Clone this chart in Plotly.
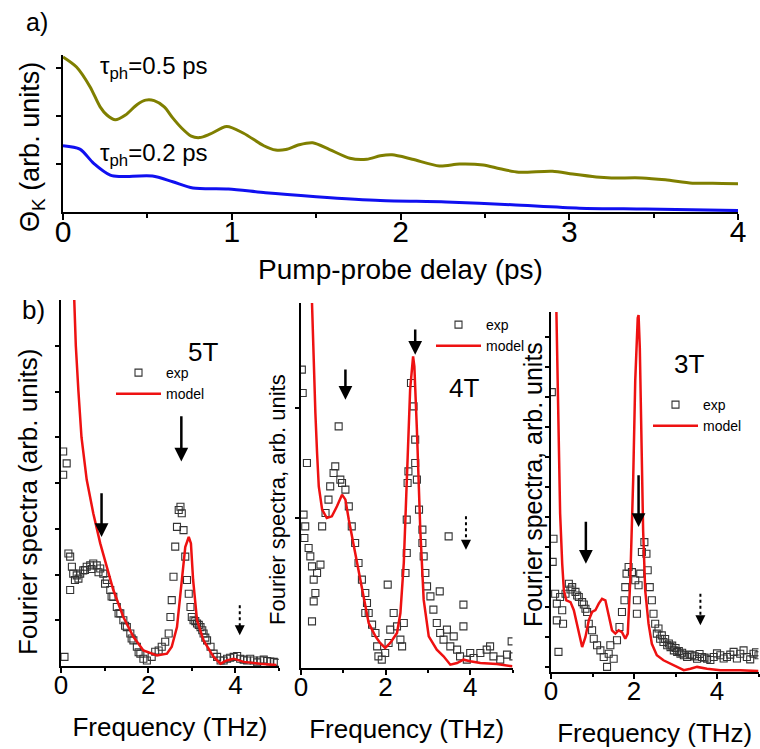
import plotly.graph_objects as go

FONT = "Liberation Sans, Arial, sans-serif"

# ---------------- panel a) : Kerr rotation vs delay ----------------
delay_05 = [0, 0.08, 0.16, 0.22, 0.26, 0.31, 0.37, 0.44, 0.49, 0.54, 0.60, 0.65, 0.70, 0.76, 0.81,
            0.87, 0.97, 1.07, 1.19, 1.26, 1.32, 1.40, 1.48, 1.58, 1.70, 1.80, 1.88, 1.95, 2.07,
            2.23, 2.35, 2.49, 2.59, 2.70, 2.90, 3.02, 3.16, 3.25, 3.43, 3.57, 3.73, 3.85, 4.0]
kerr_05 = [3.23, 3.02, 2.61, 2.19, 2.02, 1.92, 2.02, 2.24, 2.33, 2.32, 2.19, 1.96, 1.76, 1.58, 1.55,
           1.62, 1.78, 1.64, 1.38, 1.29, 1.30, 1.40, 1.44, 1.30, 1.12, 1.10, 1.17, 1.19, 1.10,
           0.96, 1.00, 0.98, 0.90, 0.83, 0.85, 0.79, 0.73, 0.71, 0.71, 0.67, 0.60, 0.60, 0.59]
delay_02 = [0, 0.10, 0.18, 0.28, 0.34, 0.53, 0.65, 0.77, 0.98, 1.20, 1.50, 1.88, 2.27, 2.66,
            3.06, 3.45, 4.0]
kerr_02 = [1.38, 1.31, 1.02, 0.77, 0.74, 0.75, 0.63, 0.50, 0.48, 0.40, 0.32, 0.24, 0.21, 0.15,
           0.08, 0.06, 0.03]

# ---------------- panel b) 5T ----------------
f5_exp = [0.05, 0.13, 0.05, 0.08, 0.17, 0.21, 0.21, 0.25, 0.28, 0.32, 0.40, 0.44, 0.51, 0.59,
          0.67, 0.74, 0.82, 0.90, 0.97, 1.05, 1.13, 1.20, 1.28, 1.36, 1.43, 1.51, 1.59, 1.66,
          1.74, 1.82, 1.89, 1.97, 2.08, 2.16, 2.24, 2.31, 2.39, 2.47, 2.51, 2.54, 2.58, 2.62,
          2.66, 2.70, 2.74, 2.77, 2.81, 2.85, 2.89, 2.93, 2.97, 3.00, 3.04, 3.12, 3.20, 3.27,
          3.35, 3.43, 3.50, 3.58, 3.66, 3.73, 3.81, 3.96, 4.11, 4.27, 4.42, 4.57, 4.73, 4.88,
          0.36, 0.55, 0.70, 0.86, 1.01, 1.16, 1.32, 1.47, 1.62, 1.78, 3.08, 3.16, 3.24, 3.31,
          3.88, 4.04, 4.19, 4.34, 4.50, 4.65, 4.80, 4.95]
s5_exp = [4.69, 4.43, 4.18, 0.20, 2.46, 2.39, 1.66, 2.17, 2.02, 1.88, 1.91, 2.02, 2.09, 2.17,
          2.20, 2.24, 2.20, 2.13, 2.02, 1.88, 1.66, 1.51, 1.29, 1.15, 1.00, 0.85, 0.71, 0.56,
          0.42, 0.27, 0.16, 0.12, 0.20, 0.31, 0.34, 0.42, 0.53, 0.71, 1.07, 1.44, 1.95, 2.61,
          3.04, 3.41, 3.48, 3.34, 2.97, 2.39, 1.88, 1.58, 1.29, 1.07, 1.00, 0.93, 0.85, 0.71,
          0.56, 0.42, 0.27, 0.20, 0.12, 0.12, 0.16, 0.20, 0.16, 0.12, 0.12, 0.12, 0.11, 0.09,
          1.98, 2.10, 2.12, 2.05, 1.80, 1.52, 1.15, 0.88, 0.60, 0.30, 0.98, 0.90, 0.78, 0.62,
          0.18, 0.22, 0.14, 0.16, 0.08, 0.14, 0.10, 0.07]
f5_mod = [0.25, 0.30, 0.34, 0.40, 0.47, 0.59, 0.74, 0.90, 1.05, 1.20, 1.43, 1.66, 1.89, 2.20,
          2.43, 2.54, 2.66, 2.77, 2.85, 2.93, 2.98, 3.03, 3.12, 3.27, 3.50, 3.66, 3.80, 3.96,
          4.19, 4.57, 4.94]
s5_mod = [9.5, 8.0, 7.0, 6.0, 5.0, 4.07, 3.34, 2.68, 2.17, 1.66, 1.07, 0.64, 0.34, 0.23,
          0.27, 0.42, 0.85, 1.88, 2.60, 2.82, 2.68, 1.88, 1.00, 0.56, 0.20, 0.05, 0.12, 0.16,
          0.09, 0.05, 0.02]

# ---------------- panel b) 4T ----------------
f4_exp = [0.02, 0.04, 0.06, 0.10, 0.14, 0.08, 0.18, 0.22, 0.26, 0.30, 0.34, 0.30, 0.26, 0.38,
          0.46, 0.50, 0.58, 0.65, 0.69, 0.77, 0.81, 0.89, 0.93, 0.97, 1.05, 1.13, 1.20, 1.28,
          1.36, 1.44, 1.52, 1.56, 1.52, 1.60, 1.68, 1.76, 1.80, 1.83, 1.91, 1.99, 2.07, 2.11,
          2.05, 2.19, 2.27, 2.35, 2.39, 2.43, 2.47, 2.50, 2.50, 2.52, 2.54, 2.60, 2.66, 2.70,
          2.70, 2.74, 2.79, 2.87, 2.87, 2.90, 2.94, 2.98, 3.06, 3.13, 3.21, 3.28, 3.29, 3.37,
          3.49, 3.45, 3.53, 3.61, 3.69, 3.76, 3.84, 3.84, 3.92, 4.00, 4.08, 4.24, 4.39, 4.47,
          4.55, 4.71, 4.87, 4.98, 5.02]
s4_exp = [8.95, 8.25, 4.60, 4.25, 6.15, 3.90, 3.60, 3.35, 3.05, 2.65, 2.25, 2.00, 1.40, 2.85,
          3.10, 4.25, 4.65, 5.05, 5.45, 5.85, 6.05, 7.25, 5.65, 5.55, 5.35, 4.85, 4.25, 3.75,
          3.15, 2.65, 2.25, 1.95, 1.65, 1.65, 1.30, 1.05, 0.65, 0.35, 0.25, 0.45, 0.75, 1.15,
          2.50, 1.65, 1.25, 0.85, 0.65, 1.35, 2.85, 3.45, 4.45, 5.55, 5.90, 8.55, 7.85, 6.85,
          6.15, 5.65, 4.75, 4.15, 3.75, 3.35, 2.85, 2.45, 2.15, 1.75, 1.35, 2.30, 1.05, 0.85,
          3.95, 1.15, 0.65, 0.95, 0.55, 0.35, 1.90, 1.25, 0.25, 0.45, 0.30, 0.45, 0.55, 0.65,
          0.35, 0.25, 0.40, 0.80, 0.35]
f4_mod = [0.26, 0.30, 0.34, 0.38, 0.42, 0.50, 0.61, 0.73, 0.85, 0.97, 1.05, 1.13, 1.24, 1.36,
          1.48, 1.60, 1.76, 1.87, 1.99, 2.11, 2.27, 2.35, 2.43, 2.50, 2.58, 2.65, 2.68, 2.74,
          2.82, 2.90, 3.02, 3.21, 3.37, 3.53, 3.69, 3.84, 4.00, 4.24, 4.63, 5.0]
s4_mod = [10.95, 9.15, 7.65, 6.45, 5.45, 4.75, 4.50, 4.55, 4.85, 5.20, 5.05, 4.45, 3.75, 2.95,
          2.15, 1.35, 0.95, 0.75, 0.60, 0.75, 1.05, 1.65, 3.15, 5.65, 8.35, 9.35, 9.05, 7.15,
          4.15, 2.05, 0.95, 0.55, 0.35, 0.10, 0.15, 0.25, 0.20, 0.15, 0.12, 0.05]

# ---------------- panel b) 3T ----------------
f3_exp = [0.02, 0.06, 0.04, 0.10, 0.14, 0.18, 0.14, 0.22, 0.27, 0.29, 0.35, 0.43, 0.51, 0.59,
          0.67, 0.75, 0.83, 0.87, 0.91, 0.99, 1.03, 1.11, 1.19, 1.27, 1.35, 1.39, 1.43, 1.51,
          1.59, 1.65, 1.71, 1.77, 1.79, 1.82, 1.87, 1.95, 2.03, 2.07, 2.07, 2.11, 2.15, 2.19,
          2.25, 2.30, 2.33, 2.38, 2.43, 2.47, 2.51, 2.55, 2.63, 2.71, 2.80, 2.88, 2.96, 3.04,
          3.12, 3.20, 3.28, 3.40, 3.52, 3.64, 3.76, 3.92, 4.08, 4.24, 4.40, 4.56, 4.72, 4.88,
          5.0, 0.47, 0.63, 0.79, 2.59, 2.67, 2.75, 2.84, 2.92, 3.00, 3.08, 3.16, 3.34, 3.46,
          3.58, 3.70, 3.84, 4.00, 4.16, 4.32, 4.48, 4.64, 4.80, 4.94]
s3_exp = [9.33, 4.44, 3.67, 2.61, 1.72, 0.67, 2.28, 2.50, 2.06, 1.61, 2.61, 2.94, 2.83, 2.67,
          2.50, 2.33, 2.11, 2.00, 1.61, 1.39, 1.11, 0.89, 0.72, 0.50, 0.17, 0.61, 0.89, 0.44,
          1.06, 1.50, 2.00, 2.39, 2.83, 3.28, 3.50, 3.33, 3.06, 2.39, 1.94, 2.89, 3.28, 4.00,
          4.33, 3.94, 3.39, 2.83, 2.39, 1.94, 1.61, 1.28, 1.11, 1.00, 0.89, 0.83, 0.72, 0.67,
          0.61, 0.56, 0.50, 0.56, 0.44, 0.50, 0.44, 0.50, 0.56, 0.50, 0.67, 0.61, 0.50, 0.61,
          0.56, 2.75, 2.55, 2.25, 1.45, 1.22, 1.10, 0.95, 0.88, 0.80, 0.70, 0.64, 0.58, 0.52,
          0.60, 0.48, 0.40, 0.62, 0.45, 0.58, 0.45, 0.72, 0.42, 0.66]
f3_mod = [0.13, 0.16, 0.19, 0.22, 0.27, 0.31, 0.37, 0.47, 0.55, 0.67, 0.75, 0.83, 0.91, 0.99,
          1.07, 1.15, 1.23, 1.31, 1.39, 1.47, 1.55, 1.63, 1.71, 1.79, 1.85, 1.91, 1.98, 2.03,
          2.09, 2.11, 2.14, 2.17, 2.22, 2.27, 2.35, 2.43, 2.55, 2.71, 2.96, 3.20, 3.36, 3.52,
          3.76, 4.08, 4.56, 5.0]
s3_mod = [12.0, 9.72, 7.50, 5.28, 3.61, 2.72, 2.39, 2.33, 2.06, 1.28, 0.83, 1.17, 1.72, 2.00,
          2.06, 2.28, 2.44, 2.39, 1.83, 1.39, 1.28, 1.39, 1.33, 1.11, 1.28, 3.06, 6.39, 9.72,
          11.8, 11.9, 10.8, 8.05, 4.72, 2.72, 1.61, 0.94, 0.56, 0.39, 0.22, 0.06, 0.11, 0.17,
          0.11, 0.06, 0.06, 0.03]

# arrows: (x, tail_y, head_y) per panel
arrows_solid = {
    "5T": [(0.93, 3.81, 2.82), (2.76, 5.49, 4.47)],
    "4T": [(1.05, 9.0, 8.05), (2.70, 10.2, 9.4)],
    "3T": [(0.84, 5.06, 3.61), (2.11, 6.61, 4.83)],
}
arrows_dashed = {"5T": (4.10, 1.33, 0.67), "4T": (3.90, 4.55, 3.55), "3T": (3.60, 2.61, 1.56)}
field_labels = {"5T": (3.26, 6.86), "4T": (3.85, 8.40), "3T": (3.33, 10.26)}

OLIVE = "#7f7f00"
BLUE = "#1010f0"
RED = "#ee1111"
EXPC = "#333333"

fig = go.Figure()

# panel a traces
fig.add_trace(go.Scatter(x=delay_05, y=kerr_05, mode="lines", line=dict(color=OLIVE, width=3, shape="spline", smoothing=0.8),
                         xaxis="x", yaxis="y", showlegend=False, name="τph=0.5 ps"))
fig.add_trace(go.Scatter(x=delay_02, y=kerr_02, mode="lines", line=dict(color=BLUE, width=3, shape="spline", smoothing=0.8),
                         xaxis="x", yaxis="y", showlegend=False, name="τph=0.2 ps"))

panels = [
    ("5T", "x2", "y2", "legend", f5_exp, s5_exp, f5_mod, s5_mod),
    ("4T", "x3", "y3", "legend2", f4_exp, s4_exp, f4_mod, s4_mod),
    ("3T", "x4", "y4", "legend3", f3_exp, s3_exp, f3_mod, s3_mod),
]
for lab, xa, ya, lg, fe, se, fm, sm in panels:
    fig.add_trace(go.Scatter(x=fe, y=se, mode="markers", name="exp", legend=lg,
                             marker=dict(symbol="square-open", size=7, color=EXPC, line=dict(width=1.1, color=EXPC)),
                             xaxis=xa, yaxis=ya))
    fig.add_trace(go.Scatter(x=fm, y=sm, mode="lines", name="model", legend=lg,
                             line=dict(color=RED, width=2.5), xaxis=xa, yaxis=ya))
    # dashed arrow shaft
    dx, dt, dh = arrows_dashed[lab]
    fig.add_trace(go.Scatter(x=[dx, dx], y=[dt, dh + (dt - dh) * 0.25], mode="lines", showlegend=False,
                             line=dict(color="black", width=2, dash="3px,3px"), xaxis=xa, yaxis=ya, hoverinfo="skip"))

annotations = []
for lab, xa, ya, lg, *_ in panels:
    for (ax_, ty, hy) in arrows_solid[lab]:
        annotations.append(dict(x=ax_, y=hy, ax=ax_, ay=ty, xref=xa, yref=ya, axref=xa, ayref=ya,
                                showarrow=True, arrowhead=2, arrowsize=1.1, arrowwidth=2.5, arrowcolor="black", text=""))
    dx, dt, dh = arrows_dashed[lab]
    annotations.append(dict(x=dx, y=dh, ax=dx, ay=dh + (dt - dh) * 0.3, xref=xa, yref=ya, axref=xa, ayref=ya,
                            showarrow=True, arrowhead=2, arrowsize=1.0, arrowwidth=2, arrowcolor="black", text=""))
    fx, fy = field_labels[lab]
    annotations.append(dict(x=fx, y=fy, xref=xa, yref=ya, text=lab, showarrow=False,
                            xanchor="center", yanchor="middle",
                            font=dict(family=FONT, size=26, color="black")))

W, H = 760, 749
def px(x):
    return x / W
def py(y):
    return 1 - y / H

def ptext(x, y, text, size, angle=0):
    return dict(x=px(x), y=py(y), xref="paper", yref="paper", text=text, showarrow=False,
                xanchor="center", yanchor="middle", textangle=angle,
                font=dict(family=FONT, size=size, color="black"))

# panel a labels
annotations += [
    dict(x=0.21, y=3.02, xref="x", yref="y", text="τ<sub>ph</sub>=0.5 ps", showarrow=False, xanchor="left",
         yanchor="middle", font=dict(family=FONT, size=24, color="black")),
    dict(x=0.21, y=1.19, xref="x", yref="y", text="τ<sub>ph</sub>=0.2 ps", showarrow=False, xanchor="left",
         yanchor="middle", font=dict(family=FONT, size=24, color="black")),
    ptext(37, 22, "a)", 25),
    ptext(33, 310, "b)", 26),
    ptext(32, 147, "Θ<sub>K</sub> (arb. units)", 27, -90),
    ptext(28, 502, "Fourier spectra (arb. units)", 26, -90),
    ptext(277, 500, "Fourier spectra, arb. units", 22, -90),
    ptext(533, 485, "Fourier spectra, arb. units", 25, -90),
]

def dom_x(a, b):
    return [a / W, b / W]
def dom_y(top, bottom):
    return [1 - bottom / H, 1 - top / H]

axis_common = dict(showline=True, linecolor="black", linewidth=2, ticks="outside", tickcolor="black",
                   tickwidth=1.5, showgrid=False, zeroline=False, mirror=False, automargin=False)

legend_common = dict(xanchor="left", yanchor="top", bgcolor="rgba(0,0,0,0)",
                     font=dict(family=FONT, size=14), itemwidth=45, tracegroupgap=0)

fig.update_layout(
    width=W, height=H, margin=dict(l=0, r=0, t=0, b=0, autoexpand=False),
    paper_bgcolor="white", plot_bgcolor="white",
    font=dict(family=FONT, color="black"),
    xaxis=dict(domain=dom_x(63, 738), range=[0, 4], anchor="y", tickvals=[0, 1, 2, 3, 4], ticklen=6,
               tickfont=dict(size=30), ticklabelstandoff=-14,
               minor=dict(dtick=0.5, ticklen=4, ticks="outside", tickcolor="black"),
               title=dict(text="Pump-probe delay (ps)", font=dict(size=28), standoff=12), **axis_common),
    yaxis=dict(domain=dom_y(55, 212), range=[0, 3.27], anchor="x", tickvals=[1, 2, 3], ticklen=5,
               showticklabels=False, **axis_common),
    xaxis2=dict(domain=dom_x(61, 279), range=[0, 5], anchor="y2", tickvals=[0, 2, 4], ticklen=5,
                tickfont=dict(size=26), ticklabelstandoff=-10,
                minor=dict(dtick=1, ticklen=3, ticks="outside", tickcolor="black"),
                title=dict(text="Frequency (THz)", font=dict(size=26), standoff=19), **axis_common),
    yaxis2=dict(domain=dom_y(300, 666), range=[0, 8], anchor="x2", tickvals=[1, 2, 3, 4, 5, 6, 7], ticklen=4,
                showticklabels=False, **axis_common),
    xaxis3=dict(domain=dom_x(301, 512.5), range=[0, 5], anchor="y3", tickvals=[0, 2, 4], ticklen=5,
                tickfont=dict(size=26), ticklabelstandoff=-10,
                minor=dict(dtick=1, ticklen=3, ticks="outside", tickcolor="black"),
                title=dict(text="Frequency (THz)", font=dict(size=26), standoff=19), **axis_common),
    yaxis3=dict(domain=dom_y(303, 668), range=[0, 10.95], anchor="x3", tickvals=[4.5, 7.8], ticklen=4,
                showticklabels=False, **axis_common),
    xaxis4=dict(domain=dom_x(551, 758.5), range=[0, 5], anchor="y4", tickvals=[0, 2, 4], ticklen=5,
                tickfont=dict(size=26), ticklabelstandoff=-10,
                minor=dict(dtick=1, ticklen=3, ticks="outside", tickcolor="black"),
                title=dict(text="Frequency (THz)", font=dict(size=26), standoff=19), **axis_common),
    yaxis4=dict(domain=dom_y(312, 672), range=[0, 12], anchor="x4", tick0=0.17, dtick=1.0, tickmode="linear",
                ticklen=4, showticklabels=False, **axis_common),
    legend=dict(x=px(111), y=py(357), **legend_common),
    legend2=dict(x=px(431), y=py(309), **legend_common),
    legend3=dict(x=px(648), y=py(389), **legend_common),
    annotations=annotations,
)

fig.write_html("out.html")
